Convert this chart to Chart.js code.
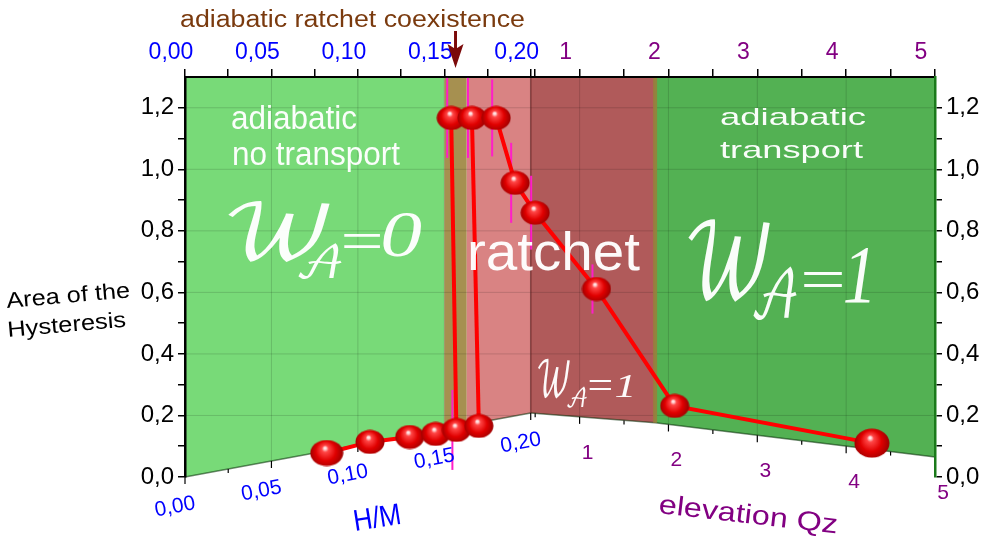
<!DOCTYPE html>
<html>
<head>
<meta charset="utf-8">
<title>Area of the Hysteresis</title>
<script src="https://cdn.jsdelivr.net/npm/chart.js@4.4.1/dist/chart.umd.min.js"></script>
<style>
  html, body { margin: 0; padding: 0; background: #fff; }
  #box { width: 1000px; height: 541px; }
</style>
</head>
<body>
<div id="box"><canvas id="hysteresisChart" width="1000" height="541"></canvas></div>
<script>
// Values
const hmTicks = [0, 0.05, 0.10, 0.15, 0.20];
const hmMinorTicks = [0.025, 0.075, 0.125, 0.175];
const qzTicks = [1, 2, 3, 4, 5];
const qzMinorTicks = [0.5, 1.5, 2.5, 3.5, 4.5];
const areaTicks = [0, 0.1, 0.2, 0.3, 0.4, 0.5, 0.6, 0.7, 0.8, 0.9, 1.0, 1.1, 1.2];

// lower branch, against H/M
const lowHM = [0.082, 0.107, 0.130, 0.145, 0.157, 0.170];
const lowArea = [0.078, 0.114, 0.130, 0.140, 0.153, 0.166];
const lowErr = [0, 0, 0, 0, 0.13, 0];

// upper branch, H/M side
const highHM = [0.154, 0.166, 0.180, 0.191];
const highArea = [1.167, 1.167, 1.167, 0.956];
const highErr = [0.13, 0.13, 0.125, 0.13];

// upper branch, elevation Qz side
const qzValues = [0.5, 1.19, 2.07, 4.29];
const qzArea = [0.859, 0.611, 0.231, 0.11];
const qzErr = [0.12, 0.08, 0, 0];

// regime borders
const hmBorders = [0, 0.15, 0.163, 0.20];   // no transport | coexistence | ratchet
const qzBorders = [0.45, 1.85, 5];          // ratchet | transport

// back edge of the floor under the panels
const floorHM = [0, 0.20];
const floorHMArea = [0, 0.208];
const floorQz = [0.45, 1.85, 5];
const floorQzArea = [0.208, 0.176, 0.065];

const AREA_MAX = 1.30;
const QZ_SCALE = 0.0514; // shared axis units per Qz unit
const FONT = "'Liberation Sans', Arial, sans-serif";
const SCRIPT_FONT = "'DejaVu Math TeX Gyre', 'DejaVu Serif', 'DejaVu Sans', serif";
const SERIF_FONT = "'Liberation Serif', 'DejaVu Serif', serif";
const BLUE = '#0000ff';
const PURPLE = '#820082';

// H/M and Qz share one horizontal axis, H/M first
const hmPos = v => v;
const qzPos = v => hmBorders[3] + (v - qzBorders[0]) * QZ_SCALE;
const X_MAX = qzPos(qzBorders[2]);

const xTicks = [];
hmTicks.forEach(v => xTicks.push({ value: hmPos(v), label: v.toFixed(2).replace('.', ','), color: BLUE, side: 'hm' }));
hmMinorTicks.forEach(v => xTicks.push({ value: hmPos(v), label: '', color: BLUE, side: 'hm' }));
qzTicks.forEach(v => xTicks.push({ value: qzPos(v), label: String(v), color: PURPLE, side: 'qz' }));
qzMinorTicks.forEach(v => xTicks.push({ value: qzPos(v), label: '', color: PURPLE, side: 'qz' }));
xTicks.sort((a, b) => a.value - b.value);

const bandEdges = hmBorders.map(hmPos).concat(qzBorders.slice(1).map(qzPos));
const bandColors = ['#78da78', '#a69050', '#d98383', '#b05a5a', '#53b153'];

const floorPts = floorHM.map((v, i) => ({ x: hmPos(v), y: floorHMArea[i] }))
  .concat(floorQz.map((v, i) => ({ x: qzPos(v), y: floorQzArea[i] })));

function floorAt(xv) {
  for (let i = 1; i < floorPts.length; i++) {
    const a = floorPts[i - 1], b = floorPts[i];
    if (xv <= b.x + 1e-9) {
      if (b.x === a.x) return b.y;
      return a.y + (b.y - a.y) * (xv - a.x) / (b.x - a.x);
    }
  }
  return floorPts[floorPts.length - 1].y;
}

function makeBall(w, h) {
  const c = document.createElement('canvas');
  c.width = w; c.height = h;
  const g = c.getContext('2d');
  const grad = g.createRadialGradient(w * 0.45, h * 0.32, 1, w * 0.5, h * 0.55, w * 0.62);
  grad.addColorStop(0, '#ffe6e6');
  grad.addColorStop(0.12, '#ff4646');
  grad.addColorStop(0.45, '#e00000');
  grad.addColorStop(0.8, '#980000');
  grad.addColorStop(1, '#5a0000');
  g.fillStyle = grad;
  g.beginPath();
  g.ellipse(w / 2, h / 2, w / 2 - 0.5, h / 2 - 0.5, 0, 0, Math.PI * 2);
  g.fill();
  return c;
}
const ball = makeBall(30, 25);
const bigBall = makeBall(36, 30);
const wideBall = makeBall(34, 27);

const toPoints = (xs, ys, pos) => xs.map((v, i) => ({ x: pos(v), y: ys[i] }));
const lower = toPoints(lowHM, lowArea, hmPos);
const upper = toPoints(highHM, highArea, hmPos).concat(toPoints(qzValues, qzArea, qzPos));
const upperErr = highErr.concat(qzErr);
const jumps = [[4, 0], [5, 1]]; // lower index -> upper index

// text helpers
function fitText(ctx, str, x, y, font, width, color, angle) {
  ctx.save();
  ctx.font = font;
  ctx.fillStyle = color;
  ctx.textAlign = 'left';
  ctx.textBaseline = 'alphabetic';
  const w = ctx.measureText(str).width;
  ctx.translate(x, y);
  ctx.rotate((angle || 0) * Math.PI / 180);
  ctx.scale(width / w, 1);
  ctx.fillText(str, 0, 0);
  ctx.restore();
}

// draw a glyph so its inked box fills [x0,x1] x [y0,y1]
function fitGlyph(ctx, str, x0, x1, y0, y1, font, color) {
  ctx.save();
  ctx.font = font;
  ctx.fillStyle = color;
  ctx.textAlign = 'left';
  ctx.textBaseline = 'alphabetic';
  const m = ctx.measureText(str);
  const bw = m.actualBoundingBoxLeft + m.actualBoundingBoxRight;
  const bh = m.actualBoundingBoxAscent + m.actualBoundingBoxDescent;
  ctx.translate(x0, y0);
  ctx.scale((x1 - x0) / bw, (y1 - y0) / bh);
  ctx.fillText(str, m.actualBoundingBoxLeft, m.actualBoundingBoxAscent);
  ctx.restore();
}

function drawWA(ctx, boxes, digit, color) {
  fitGlyph(ctx, '\u{1D4B2}', ...boxes.w, '80px ' + SCRIPT_FONT, color);
  fitGlyph(ctx, '\u{1D49C}', ...boxes.a, '60px ' + SCRIPT_FONT, color);
  fitGlyph(ctx, '=', ...boxes.eq, '60px ' + SERIF_FONT, color);
  fitGlyph(ctx, digit, ...boxes.d, 'italic 60px ' + SERIF_FONT, color);
}

const panelPlugin = {
  id: 'panels',
  beforeDraw(chart) {
    const { ctx, chartArea: area, scales: { x, y } } = chart;
    const polys = [];
    for (let i = 0; i < bandEdges.length - 1; i++) {
      const x0 = x.getPixelForValue(bandEdges[i]);
      const x1 = x.getPixelForValue(bandEdges[i + 1]);
      polys.push([[x0, area.top], [x1, area.top],
        [x1, y.getPixelForValue(floorAt(bandEdges[i + 1]))],
        [x0, y.getPixelForValue(floorAt(bandEdges[i]))]]);
    }
    const trace = p => p.forEach(([px, py], k) => k ? ctx.lineTo(px, py) : ctx.moveTo(px, py));
    ctx.save();
    polys.forEach((p, i) => {
      ctx.beginPath(); trace(p); ctx.closePath();
      ctx.fillStyle = bandColors[i];
      ctx.fill();
    });
    // faint grid on the panels
    ctx.save();
    ctx.beginPath();
    polys.forEach(p => { trace(p); ctx.closePath(); });
    ctx.clip();
    ctx.strokeStyle = 'rgba(0,0,0,0.14)';
    ctx.lineWidth = 1;
    xTicks.filter(t => t.label !== '').forEach(t => {
      const px = x.getPixelForValue(t.value);
      ctx.beginPath(); ctx.moveTo(px, area.top); ctx.lineTo(px, area.bottom); ctx.stroke();
    });
    areaTicks.filter(v => Math.round(v * 10) % 2 === 0 && v > 0).forEach(v => {
      const py = y.getPixelForValue(v);
      ctx.beginPath(); ctx.moveTo(area.left, py); ctx.lineTo(area.right, py); ctx.stroke();
    });
    ctx.restore();
    // floor edges
    ctx.strokeStyle = 'rgba(0,40,0,0.55)';
    ctx.lineWidth = 1.5;
    polys.forEach(p => {
      ctx.beginPath(); ctx.moveTo(p[3][0], p[3][1]); ctx.lineTo(p[2][0], p[2][1]); ctx.stroke();
    });
    // small marks along the floor edge
    ctx.strokeStyle = '#000';
    ctx.lineWidth = 1.2;
    xTicks.forEach(t => {
      const px = x.getPixelForValue(t.value);
      const py = y.getPixelForValue(floorAt(t.value));
      ctx.beginPath(); ctx.moveTo(px, py); ctx.lineTo(px, py + (t.label ? 7 : 4)); ctx.stroke();
    });
    // corner seam and regime seam
    const corner = x.getPixelForValue(bandEdges[3]);
    ctx.strokeStyle = 'rgba(90,20,20,0.55)';
    ctx.lineWidth = 1.5;
    ctx.beginPath(); ctx.moveTo(corner, area.top); ctx.lineTo(corner, y.getPixelForValue(floorAt(bandEdges[3]))); ctx.stroke();
    const seam = x.getPixelForValue(bandEdges[4]);
    ctx.strokeStyle = 'rgba(150,130,60,0.9)';
    ctx.lineWidth = 4;
    ctx.beginPath(); ctx.moveTo(seam, area.top); ctx.lineTo(seam, y.getPixelForValue(floorAt(bandEdges[4]))); ctx.stroke();
    ctx.restore();
  },
  beforeDatasetsDraw(chart) {
    const { ctx, chartArea: area, scales: { x, y } } = chart;
    ctx.save();
    ctx.strokeStyle = '#ff1ec8';
    ctx.lineWidth = 2;
    const bars = (pts, errs) => pts.forEach((p, i) => {
      if (!errs[i]) return;
      const px = x.getPixelForValue(p.x) - 4;
      const top = Math.max(area.top, y.getPixelForValue(p.y + errs[i]));
      const bot = Math.min(area.bottom, y.getPixelForValue(p.y - errs[i]));
      ctx.beginPath(); ctx.moveTo(px, top); ctx.lineTo(px, bot); ctx.stroke();
    });
    bars(lower, lowErr);
    bars(upper, upperErr);
    ctx.restore();
  },
  afterDraw(chart) {
    const { ctx, scales: { x, y } } = chart;
    const white = 'rgba(255,255,255,0.97)';

    // bottom tick labels follow the floor edge
    ctx.save();
    ctx.font = '21px ' + FONT;
    ctx.textAlign = 'center';
    ctx.textBaseline = 'middle';
    const hmSlope = Math.atan2(
      y.getPixelForValue(floorAt(bandEdges[3])) - y.getPixelForValue(floorAt(bandEdges[0])),
      x.getPixelForValue(bandEdges[3]) - x.getPixelForValue(bandEdges[0]));
    xTicks.filter(t => t.label !== '').forEach(t => {
      const px = x.getPixelForValue(t.value);
      const py = y.getPixelForValue(floorAt(t.value)) + (t.side === 'hm' ? 30 : 36);
      ctx.save();
      ctx.translate(px - (t.side === 'hm' ? 10 : -8), py);
      if (t.side === 'hm') ctx.rotate(hmSlope);
      ctx.fillStyle = t.color;
      ctx.fillText(t.label, 0, 0);
      ctx.restore();
    });
    ctx.restore();

    fitText(ctx, 'adiabatic ratchet coexistence', 180, 27, '23px ' + FONT, 345, '#7a3a0e');

    // arrow down to the coexistence strip
    const ax = x.getPixelForValue((bandEdges[1] + bandEdges[2]) / 2);
    ctx.save();
    ctx.strokeStyle = '#7b0a0a';
    ctx.fillStyle = '#7b0a0a';
    ctx.lineWidth = 3;
    ctx.beginPath(); ctx.moveTo(ax, 31); ctx.lineTo(ax, 52); ctx.stroke();
    ctx.beginPath();
    ctx.moveTo(ax - 8, 44); ctx.lineTo(ax, 49); ctx.lineTo(ax + 8, 44); ctx.lineTo(ax, 68);
    ctx.closePath(); ctx.fill();
    ctx.restore();

    fitText(ctx, 'adiabatic', 231, 129, '33px ' + FONT, 126, white);
    fitText(ctx, 'no transport', 232, 165, '33px ' + FONT, 168, white);
    drawWA(ctx, { w: [228, 330, 200, 263], a: [298, 342, 243, 280], eq: [343, 380, 235, 249], d: [383, 422, 213, 257] }, '0', white);

    fitText(ctx, 'ratchet', 467, 270, '54px ' + FONT, 173, white);
    drawWA(ctx, { w: [538, 570, 358, 398], a: [567, 587, 387, 408], eq: [589, 611, 381, 391], d: [616, 632, 375, 397] }, '1', white);

    fitText(ctx, 'adiabatic', 720, 125, '24px ' + FONT, 146, white);
    fitText(ctx, 'transport', 720, 158, '24px ' + FONT, 143, white);
    drawWA(ctx, { w: [688, 770, 217, 302], a: [753, 797, 267, 320], eq: [803, 842, 272, 287], d: [845, 870, 248, 302] }, '1', white);

    fitText(ctx, 'Area of the', 7, 308, '22px ' + FONT, 124, '#000', -5);
    fitText(ctx, 'Hysteresis', 8, 337, '22px ' + FONT, 119, '#000', -5);
    fitText(ctx, 'H/M', 355, 531, '30px ' + FONT, 48, BLUE, -9);
    fitText(ctx, 'elevation Qz', 658, 513, '27px ' + FONT, 180, PURPLE, 6.5);
  }
};

const lineStyle = { borderColor: '#ff0000', borderWidth: 4, tension: 0 };

const datasets = [
  Object.assign({ label: 'lower branch', data: lower,
    pointStyle: lower.map((_, i) => i === 0 ? wideBall : ball), pointRadius: 12, order: 2 }, lineStyle),
  Object.assign({ label: 'upper branch', data: upper,
    pointStyle: upper.map((_, i) => i === upper.length - 1 ? bigBall : ball), pointRadius: 12, order: 1 }, lineStyle)
];
jumps.forEach(([lo, hi]) => {
  datasets.push(Object.assign({ label: 'jump', data: [lower[lo], upper[hi]], pointRadius: 0, order: 3 }, lineStyle));
});

new Chart(document.getElementById('hysteresisChart'), {
  type: 'line',
  data: { datasets: datasets },
  options: {
    responsive: false,
    animation: false,
    layout: { padding: 0 },
    plugins: { legend: { display: false }, tooltip: { enabled: false } },
    scales: {
      x: {
        type: 'linear', position: 'bottom', min: 0, max: X_MAX,
        afterFit: s => { s.height = 64; },
        ticks: { display: false },
        grid: { display: false },
        border: { display: false }
      },
      xTop: {
        type: 'linear', position: 'top', min: 0, max: X_MAX,
        afterBuildTicks: s => { s.ticks = xTicks.map(t => ({ value: t.value })); },
        afterFit: s => { s.height = 77; },
        ticks: {
          autoSkip: false, maxRotation: 0,
          callback: (v, i) => xTicks[i] ? xTicks[i].label : '',
          color: c => xTicks[c.index] ? xTicks[c.index].color : '#000',
          font: { family: FONT, size: 23 },
          padding: 3,
          labelOffset: -14
        },
        grid: { drawOnChartArea: false, color: '#000', tickLength: 8, lineWidth: 1.5 },
        border: { color: '#000', width: 2 }
      },
      y: {
        type: 'linear', position: 'left', min: 0, max: AREA_MAX,
        afterBuildTicks: s => { s.ticks = areaTicks.map(v => ({ value: v })); },
        afterFit: s => { s.width = 185; },
        ticks: {
          autoSkip: false,
          callback: v => Math.round(v * 10) % 2 === 0 ? v.toFixed(1).replace('.', ',') : '',
          color: '#000',
          font: { family: FONT, size: 24 },
          padding: 4
        },
        grid: { drawOnChartArea: false, color: '#000', tickLength: 7, lineWidth: 1.5 },
        border: { color: '#000', width: 2.5 }
      },
      y2: {
        type: 'linear', position: 'right', min: 0, max: AREA_MAX,
        afterBuildTicks: s => { s.ticks = areaTicks.map(v => ({ value: v })); },
        afterFit: s => { s.width = 65; },
        ticks: {
          autoSkip: false,
          callback: v => Math.round(v * 10) % 2 === 0 ? v.toFixed(1).replace('.', ',') : '',
          color: '#000',
          font: { family: FONT, size: 24 },
          padding: 4
        },
        grid: { drawOnChartArea: false, color: '#000', tickLength: 7, lineWidth: 1.5 },
        border: { color: '#1a7a1a', width: 2.5 }
      }
    }
  },
  plugins: [panelPlugin]
});
</script>
</body>
</html>
